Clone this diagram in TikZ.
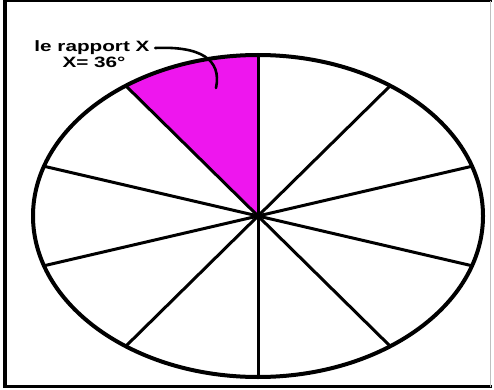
\documentclass[tikz,border=0pt]{standalone}
\usepackage{fontspec}
\setmainfont{Liberation Sans}
\usepackage{xcolor}
\usepackage{tikz}
\usetikzlibrary{calc}
\definecolor{piemag}{RGB}{238,22,238}

\begin{document}
\begin{tikzpicture}[
    x=1pt, y=1pt,
    rim/.style={line width=4pt, black},
    spoke/.style={line width=3pt, black},
    slice/.style={fill=piemag},
    lbl/.style={font=\fontsize{15}{17}\selectfont\bfseries, inner sep=1pt, anchor=base, transform shape, xscale=1.38},
    leader/.style={line width=2.6pt, line cap=round},
]
\useasboundingbox (0,0) rectangle (494,389);
% frame
\draw[line width=4pt] (5,2) -- (5,388);
\draw[line width=2.5pt] (3,388) -- (492,388);
\draw[line width=3pt] (3,2.5) -- (492,2.5);
\draw[gray!50, line width=1pt] (490,2) -- (490,388);
% the pie
\coordinate (c) at (258,173);
\fill[slice] (c) -- ([shift={(90:225 and 161)}]c) arc[start angle=90, end angle=126, x radius=225, y radius=161] -- cycle;
\foreach \a in {18,54,...,342}
    \draw[spoke] (c) -- ([shift={(\a:225 and 161)}]c);
\fill (c) circle (3);
\draw[rim] (c) ellipse [x radius=225, y radius=161];
% label
\node[lbl] (rapport) at (92,337) {le rapport X};
\node[lbl] (angle) at (94,321) {X= 36°};
\coordinate (tip) at (216,301);
\draw[leader] ([xshift=4pt,yshift=4pt]rapport.base east) .. controls (200,343) and (222,330) .. (tip);
\end{tikzpicture}
\end{document}
